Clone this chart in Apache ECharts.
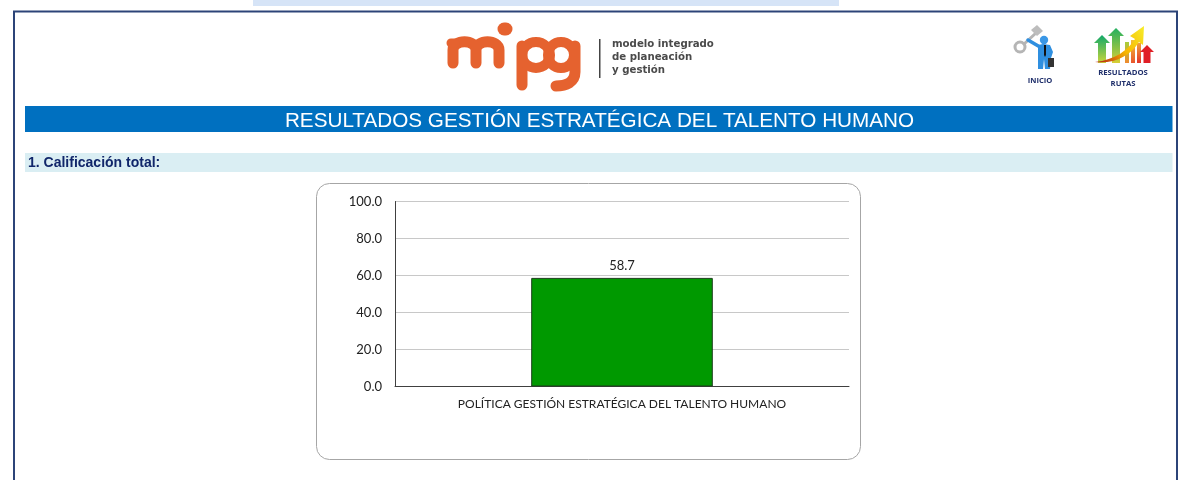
<!DOCTYPE html>
<html>
<head>
<meta charset="utf-8">
<title>Resultados</title>
<style>
  html, body { margin: 0; padding: 0; background: #fff; }
  #chart { width: 1183px; height: 480px; }
</style>
<script src="https://cdn.jsdelivr.net/npm/echarts@6/dist/echarts.min.js"></script>
</head>
<body>
<div id="chart"></div>
<script>
const categories = ['POLÍTICA GESTIÓN ESTRATÉGICA DEL TALENTO HUMANO']
const scores = [58.7]
const yTicks = [0, 100, 20]
const pageTitle = 'RESULTADOS GESTIÓN ESTRATÉGICA DEL TALENTO HUMANO'
const sectionTitle = '1. Calificación total:'
const logoLines = ['modelo integrado', 'de planeación', 'y gestión']

const myChart = echarts.init(document.getElementById('chart'), null, { renderer: 'canvas' })

// the graphic component has no plain path type, so each svg path gets registered
let shapeCount = 0
function pathShape(d, style) {
    const name = 'pagePath' + (shapeCount++)
    echarts.graphic.registerShape(name, echarts.graphic.extendPath(d, {}))
    return { type: name, shape: {}, style: style }
}

// page furniture around the chart
function pageShapes() {
    const orange = '#e5622f'
    const stroke = (d, w, color) => pathShape(d, { fill: null, stroke: color || orange, lineWidth: w, lineCap: 'round', lineJoin: 'round' })
    const solid = (d, fill) => pathShape(d, { fill: fill })
    const label = (text, x, y, font, fill, align) => ({
        type: 'text', x: x, y: y,
        style: { text: text, font: font, fill: fill, align: align || 'left', verticalAlign: 'middle' }
    })
    const arrow = (x, top, bottom, w, fill) => solid(
        `M${x - w} ${top + w}L${x} ${top}L${x + w} ${top + w}L${x + w / 2} ${top + w}L${x + w / 2} ${bottom}L${x - w / 2} ${bottom}L${x - w / 2} ${top + w}Z`, fill)
    const fade = (top, bottom) => new echarts.graphic.LinearGradient(0, 0, 0, 1, [
        { offset: 0, color: top }, { offset: 1, color: bottom }
    ])

    return [
        { type: 'rect', shape: { x: 253, y: 0, width: 586, height: 6 }, style: { fill: '#d6e4f7' } },
        { type: 'rect', shape: { x: 14, y: 11.5, width: 1163, height: 480 }, style: { fill: '#fff', stroke: '#2c4478', lineWidth: 2 } },
        { type: 'rect', shape: { x: 25, y: 106, width: 1147.5, height: 26 }, style: { fill: '#0070c0' } },
        label(pageTitle, 599.5, 121, '20.7px "Liberation Sans"', '#fff', 'center'),
        { type: 'rect', shape: { x: 25, y: 153, width: 1147.5, height: 19 }, style: { fill: '#daeef3' } },
        label(sectionTitle, 28, 163.5, 'bold 14px "Liberation Sans"', '#10266a'),
        { type: 'rect', shape: { x: 316.5, y: 183.5, width: 544, height: 276, r: 13 }, style: { fill: '#fff', stroke: '#a6a6a6', lineWidth: 1 } },

        // mipg logo
        stroke('M453 63V50C453 39 476 39 476 50V63M476 50C476 39 499 39 499 50V63', 11),
        stroke('M451 43L455 43', 9),
        stroke('M504 29L506 29', 13),
        stroke('M522 46V85', 11),
        stroke('M522 55A14 13 0 1 1 550 55A14 13 0 1 1 522 55', 10),
        stroke('M548 55A13 13 0 1 1 574 55A13 13 0 1 1 548 55', 10),
        stroke('M575 46V72C575 82 566 86 556 86', 11),
        { type: 'rect', shape: { x: 599, y: 39, width: 1.5, height: 39 }, style: { fill: '#444' } },
        label(logoLines[0], 612, 44, 'bold 10.2px "DejaVu Sans"', '#4a4a4a'),
        label(logoLines[1], 612, 57, 'bold 10.2px "DejaVu Sans"', '#4a4a4a'),
        label(logoLines[2], 612, 70, 'bold 10.2px "DejaVu Sans"', '#4a4a4a'),

        // inicio icon
        { type: 'circle', shape: { cx: 1020, cy: 47, r: 5 }, style: { fill: 'none', stroke: '#b5b5b5', lineWidth: 3 } },
        stroke('M1024 44L1036 33', 3, '#b5b5b5'),
        solid('M1031 30L1037 25L1043 31L1037 36Z', '#bdbdbd'),
        stroke('M1028 40L1040 47', 3.5, '#2f8fe0'),
        solid('M1038 45L1043 44L1050 45L1053 52L1051 58L1050 69L1045 69L1044 59L1043 69L1038 69Z', '#2f8fe0'),
        { type: 'circle', shape: { cx: 1044, cy: 40, r: 4.2 }, style: { fill: '#3a97e6' } },
        solid('M1044 45L1046 45L1046 55L1045 57L1044 55Z', '#111'),
        { type: 'rect', shape: { x: 1048, y: 58, width: 6, height: 9 }, style: { fill: '#333' } },
        label('INICIO', 1040, 81, 'bold 7.6px "Open Sans"', '#1f2f6b', 'center'),

        // resultados rutas icon
        arrow(1102, 35, 63, 8, fade('#10a86a', '#c9d63a')),
        arrow(1116, 28, 63, 8, fade('#22b060', '#d8cf35')),
        { type: 'rect', shape: { x: 1125, y: 42, width: 4, height: 21 }, style: { fill: fade('#a8cf3c', '#ef8a2e') } },
        { type: 'rect', shape: { x: 1131, y: 40, width: 4, height: 23 }, style: { fill: fade('#f2c23a', '#e9552b') } },
        { type: 'rect', shape: { x: 1137, y: 43, width: 4, height: 20 }, style: { fill: fade('#f0a23a', '#e2352a') } },
        arrow(1147, 45, 63, 7, '#e01f26'),
        solid('M1095 62C1115 60 1128 50 1135 39L1130 36L1144 26L1143 45L1139 42C1130 56 1115 64 1095 62Z',
            new echarts.graphic.LinearGradient(0, 1, 1, 0, [
                { offset: 0, color: '#b01515' }, { offset: 0.5, color: '#f7b500' }, { offset: 1, color: '#f7ee2a' }
            ])),
        label('RESULTADOS', 1123, 72.5, 'bold 7.7px "Open Sans"', '#1f2f6b', 'center'),
        label('RUTAS', 1123, 84, 'bold 7.7px "Open Sans"', '#1f2f6b', 'center')
    ]
}

const option = {
    animation: false,
    backgroundColor: '#fff',
    graphic: { elements: pageShapes().map(s => Object.assign({ z: -10 }, s)) },
    grid: { left: 395, right: 334, top: 201.5, height: 185, containLabel: false },
    xAxis: {
        type: 'category',
        data: categories,
        axisTick: { show: false },
        axisLine: { lineStyle: { color: '#404040', width: 1 } },
        axisLabel: { color: '#222', fontFamily: 'Lato', fontSize: 12, margin: 12 }
    },
    yAxis: {
        type: 'value',
        min: yTicks[0],
        max: yTicks[1],
        interval: yTicks[2],
        axisLine: { show: true, lineStyle: { color: '#404040', width: 1 } },
        axisTick: { show: false },
        axisLabel: { color: '#222', fontFamily: 'Lato', fontSize: 13, margin: 13, formatter: v => v.toFixed(1) },
        splitLine: { lineStyle: { color: '#c8c8c8', width: 1 } }
    },
    series: [{
        type: 'bar',
        data: scores,
        barWidth: '40%',
        itemStyle: { color: '#009900', borderColor: '#1d3d1d', borderWidth: 1 },
        label: {
            show: true, position: 'top', distance: 6, color: '#222',
            fontFamily: 'Lato', fontSize: 13, formatter: p => p.value.toFixed(1)
        }
    }]
}

myChart.setOption(option)
</script>
</body>
</html>
